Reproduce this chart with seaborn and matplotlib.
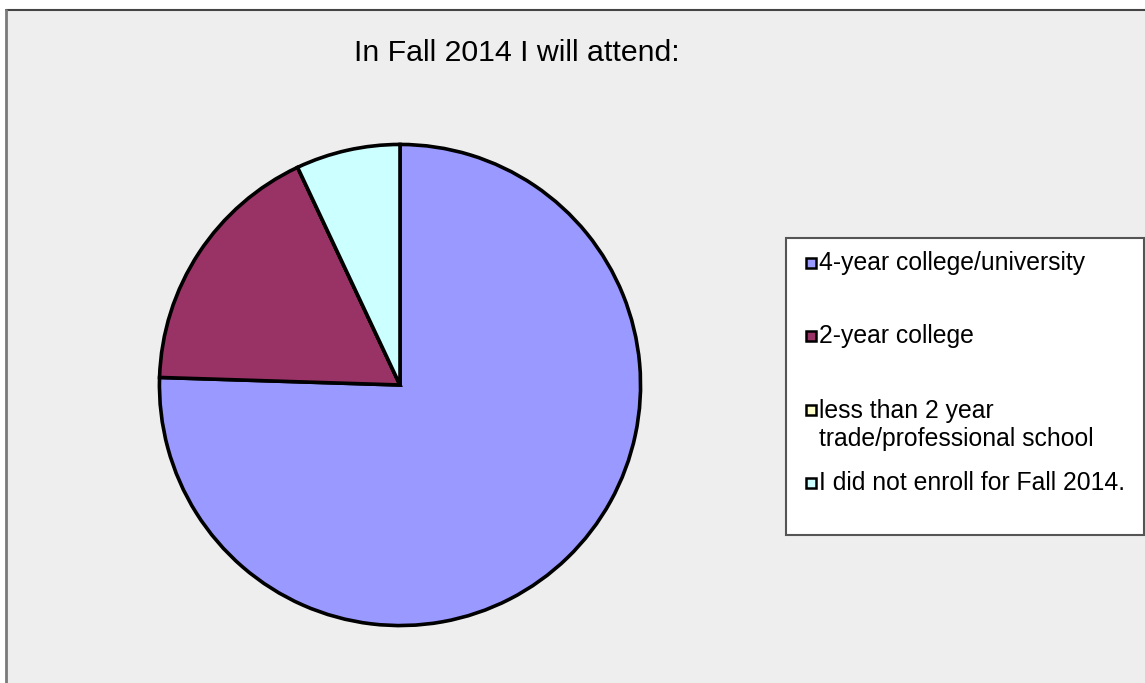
import matplotlib
matplotlib.use('Agg')

import matplotlib.pyplot as plt
import matplotlib.patches as mpatches
import seaborn as sns

sns.set_style("white")
plt.rcParams['font.family'] = ['Liberation Sans', 'DejaVu Sans']

W, H = 1145, 683

# 데이터 (그림에서 읽은 값, %)
labels = [
    "4-year college/university",
    "2-year college",
    "less than 2 year\ntrade/professional school",
    "I did not enroll for Fall 2014.",
]
values = [75.5, 17.5, 0.0, 7.0]
colors = ["#9999FF", "#993366", "#FFFFCC", "#CCFFFF"]
title = "In Fall 2014 I will attend:"


def fx(px):
    return px / W


def fy(py):
    return 1 - py / H


fig = plt.figure(figsize=(W / 100, H / 100), dpi=100)
fig.patch.set_facecolor("white")

# 차트 영역 배경 + 테두리
fig.add_artist(mpatches.Rectangle((fx(6), 0), 1 - fx(6), fy(10), transform=fig.transFigure,
                                  facecolor="#EEEEEE", edgecolor="none", zorder=-2))
fig.add_artist(plt.Line2D([fx(6), 1], [fy(10), fy(10)], color="#444444", lw=1.5, zorder=-1))
fig.add_artist(plt.Line2D([fx(6), fx(6)], [0, fy(10)], color="#7a7a7a", lw=2, zorder=-1))

# 파이
cx, cy, r = 400, 385, 242
ax = fig.add_axes([fx(cx - r), fy(cy + r), 2 * r / W, 2 * r / H])
ax.set_zorder(1)
ax.pie(values, colors=colors, startangle=90, counterclock=False,
       wedgeprops={"edgecolor": "black", "linewidth": 2.6})
ax.set_xlim(-1.006, 1.006)
ax.set_ylim(-1.006, 1.006)
ax.set_aspect("auto")
ax.axis("off")

# 제목
fig.text(fx(517), fy(53), title, ha="center", va="center", fontsize=21.8, color="black")

# 범례 (수동)
fig.add_artist(mpatches.Rectangle((fx(786), fy(535)), fx(1144) - fx(786), fy(238) - fy(535),
                                  transform=fig.transFigure, facecolor="white",
                                  edgecolor="#555555", lw=1.5, zorder=2))
row_y = [263, 336, 410, 483]
for lab, col, yy in zip(labels, colors, row_y):
    fig.add_artist(mpatches.Rectangle((fx(806), fy(yy + 5)), fx(10), 10 / H,
                                      transform=fig.transFigure, facecolor=col,
                                      edgecolor="black", lw=1.8, zorder=3))
    n = lab.count("\n")
    fig.text(fx(819), fy(yy + n * 15), lab, ha="left", va="center", fontsize=17.8,
             linespacing=1.25, color="black", zorder=4)

plt.savefig("out.png", dpi=100)
plt.close()
